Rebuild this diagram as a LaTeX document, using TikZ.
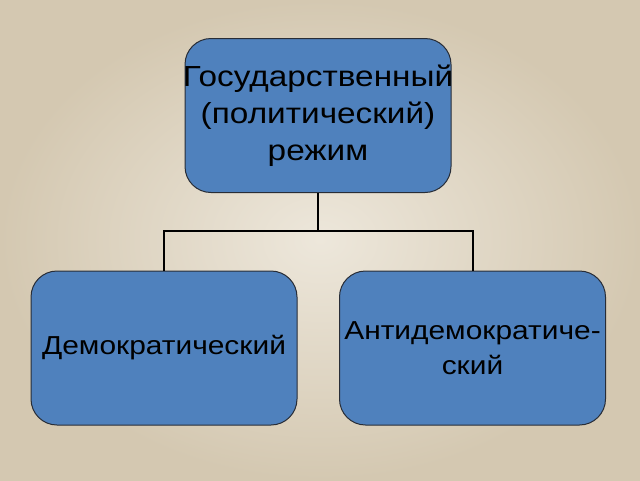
\documentclass[tikz,border=0pt]{standalone}
\usepackage{fontspec}
\setmainfont{Liberation Sans}
\newfontfamily\widefont[FakeStretch=1.15]{Liberation Sans}
\definecolor{boxblue}{RGB}{79,129,189}
\definecolor{boxline}{RGB}{40,45,55}
\definecolor{paperin}{RGB}{237,231,219}
\definecolor{paperout}{RGB}{212,200,177}
\begin{document}
\begin{tikzpicture}[x=1pt,y=-1pt,
  regbox/.style={draw=boxline, line width=1pt, fill=boxblue, rounded corners=26pt,
    minimum width=266pt, minimum height=154pt, inner sep=0pt},
  toptext/.style={inner sep=0pt, align=center, font=\widefont\fontsize{29}{37}\selectfont},
  subtext/.style={inner sep=0pt, align=center, font=\widefont\fontsize{26}{35}\selectfont},
  conn/.style={draw=black, line width=2pt}]
\shade[inner color=paperin, outer color=paperout] (0,0) rectangle (640,480);
\useasboundingbox (0,0) rectangle (640,480);
\node[regbox] (top) at (318,115.5) {};
\node[regbox] (left) at (164,348) {};
\node[regbox] (right) at (472.5,348) {};
\node[toptext] (toplabel) at (top.center) {Государственный\\(политический)\\режим};
\node[subtext] (leftlabel) at (left.center) {Демократический};
\node[subtext] (rightlabel) at (right.center) {Антидемократиче-\\ский};
\coordinate (mid) at (318,231);
\draw[conn] (top.south) -- (mid);
\draw[conn] (left.north) -- (left.north |- mid) -- (right.north |- mid) -- (right.north);
\end{tikzpicture}
\end{document}
